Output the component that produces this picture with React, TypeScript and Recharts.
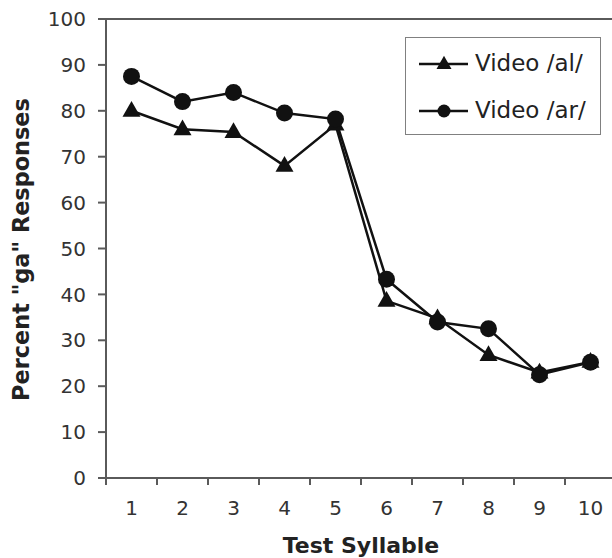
import React from 'react';
import { LineChart, Line, XAxis, YAxis, Legend, ReferenceLine, Label } from 'recharts';

const syllables = [1, 2, 3, 4, 5, 6, 7, 8, 9, 10];
const videoAl = [80, 76, 75.4, 68, 77, 38.6, 34.8, 26.8, 23, 25.3];
const videoAr = [87.5, 82, 84, 79.5, 78.2, 43.3, 34, 32.5, 22.5, 25.2];
const yTicks = [0, 10, 20, 30, 40, 50, 60, 70, 80, 90, 100];

const seriesNames = ['Video /al/', 'Video /ar/'];

const data = syllables.map((s, i) => ({ x: s, al: videoAl[i], ar: videoAr[i] }));
// labels sit on the syllables, tick marks sit between them
const xTicks = [...syllables.map((s) => s - 0.5), 10.5, ...syllables].sort((a, b) => a - b);

const FONT = '"DejaVu Sans", Verdana, sans-serif';
const AXIS = '#5a5a5a';

const Triangle = ({ cx, cy, size = 9 }: any) => {
  if (cx == null || cy == null) return null;
  const h = size * 1.75;
  return (
    <polygon
      points={`${cx},${cy - h * 0.62} ${cx - size},${cy + h * 0.38} ${cx + size},${cy + h * 0.38}`}
      fill="#111"
    />
  );
};

const XTick = ({ x, y, payload }: any) => {
  const v = payload.value;
  if (Number.isInteger(v)) {
    return (
      <text x={x} y={y + 37} textAnchor="middle" fontSize={20} fontFamily={FONT} fill="#333">
        {v}
      </text>
    );
  }
  return <line x1={x} x2={x} y1={y} y2={y + 7} stroke={AXIS} strokeWidth={2} />;
};

const LegendBox = () => (
  <div
    style={{
      position: 'relative',
      width: 196,
      height: 98,
      border: '1.5px solid #808080',
      boxSizing: 'border-box',
      background: '#fff',
      fontFamily: FONT,
    }}
  >
    {seriesNames.map((name, i) => (
      <div key={name} style={{ position: 'absolute', left: 0, top: 26 + i * 47 - 12, height: 24, width: 196 }}>
        <svg width={52} height={24} style={{ position: 'absolute', left: 12, top: 0 }}>
          <line x1={1} x2={50} y1={12} y2={12} stroke="#111" strokeWidth={2.5} />
          {i === 0 ? <Triangle cx={26} cy={12} size={7.5} /> : <circle cx={26} cy={12} r={6.5} fill="#111" />}
        </svg>
        <span
          style={{
            position: 'absolute',
            left: 69,
            top: -2,
            fontSize: 23,
            lineHeight: '26px',
            color: '#222',
            whiteSpace: 'nowrap',
          }}
        >
          {name}
        </span>
      </div>
    ))}
  </div>
);

export default function App() {
  return (
    <div style={{ position: 'absolute', left: 0, top: 0, width: 612, height: 558, overflow: 'hidden', background: '#fff' }}>
      <LineChart width={630} height={558} data={data} margin={{ top: 19, right: 14, bottom: 0, left: 0 }}>
        <XAxis
          dataKey="x"
          type="number"
          domain={[0.5, 10.5]}
          ticks={xTicks}
          interval={0}
          tickSize={0}
          tickMargin={0}
          tickLine={false}
          tick={<XTick />}
          height={80}
          axisLine={{ stroke: AXIS, strokeWidth: 2 }}
        >
          <Label
            content={({ viewBox }: any) => (
              <text
                x={361}
                y={viewBox.y + 75}
                textAnchor="middle"
                fontSize={22}
                fontWeight="bold"
                fontFamily={FONT}
                fill="#222"
              >
                Test Syllable
              </text>
            )}
          />
        </XAxis>
        <YAxis
          domain={[0, 100]}
          ticks={yTicks}
          interval={0}
          width={106}
          tickSize={8}
          tickMargin={12}
          tickLine={{ stroke: AXIS, strokeWidth: 2 }}
          axisLine={{ stroke: AXIS, strokeWidth: 2 }}
          tick={{ fontSize: 20, fontFamily: FONT, fill: '#333' }}
        >
          <Label
            content={({ viewBox }: any) => {
              const cy = viewBox.y + viewBox.height / 2 + 1;
              return (
                <text
                  x={29}
                  y={cy}
                  transform={`rotate(-90, 29, ${cy})`}
                  textAnchor="middle"
                  fontSize={22.4}
                  fontWeight="bold"
                  fontFamily={FONT}
                  fill="#222"
                >
                  Percent "ga" Responses
                </text>
              );
            }}
          />
        </YAxis>
        <ReferenceLine y={100} stroke={AXIS} strokeWidth={2} />
        <ReferenceLine x={10.5} stroke={AXIS} strokeWidth={2} />
        <Legend
          layout="vertical"
          align="center"
          verticalAlign="middle"
          content={<LegendBox />}
          wrapperStyle={{ left: 405, top: 37, width: 196, height: 98 }}
        />
        <Line
          dataKey="al"
          name={seriesNames[0]}
          stroke="#111"
          strokeWidth={2.5}
          isAnimationActive={false}
          dot={(p: any) => <Triangle key={`t${p.index}`} cx={p.cx} cy={p.cy} size={9} />}
          activeDot={false}
        />
        <Line
          dataKey="ar"
          name={seriesNames[1]}
          stroke="#111"
          strokeWidth={2.5}
          isAnimationActive={false}
          dot={(p: any) => <circle key={`c${p.index}`} cx={p.cx} cy={p.cy} r={8.5} fill="#111" />}
          activeDot={false}
        />
      </LineChart>
    </div>
  );
}
